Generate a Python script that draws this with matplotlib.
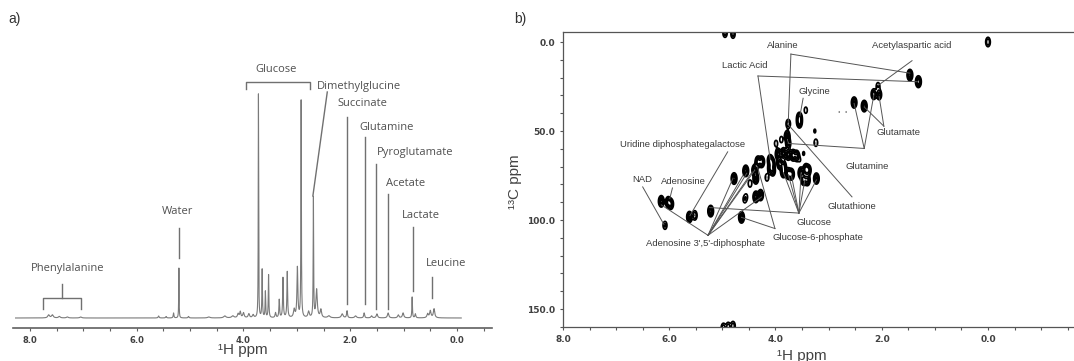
import numpy as np
import matplotlib
matplotlib.use('Agg')
import matplotlib.pyplot as plt
from matplotlib.ticker import MultipleLocator, FormatStrFormatter

# ---- panel a) 1D 1H spectrum: peak list (ppm, height, fwhm)
peak_ppm = [7.65, 7.58, 7.45, 7.30, 7.05,
            5.59, 5.45, 5.31, 5.21, 5.03,
            4.65, 4.35, 4.20, 4.10, 4.06, 4.00, 3.90, 3.82,
            3.72, 3.65, 3.59, 3.53,
            3.40, 3.33, 3.26, 3.18,
            3.05, 2.99, 2.92,
            2.78, 2.69, 2.63, 2.55,
            2.40, 2.15, 2.06,
            1.90, 1.74, 1.60, 1.50, 1.29, 1.10, 1.01,
            0.84, 0.78,
            0.55, 0.50, 0.43]
peak_height = [3, 3, 1.5, 1, 1,
               2, 1.5, 5, 50, 1.5,
               1, 2, 2, 4, 6, 5, 4, 3,
               225, 48, 26, 43,
               5, 18, 40, 46,
               8, 50, 217,
               6, 120, 28, 8,
               2, 4, 7,
               2, 5, 2, 4, 5, 3, 5,
               21, 4,
               4, 7, 9]
peak_fwhm = [0.04, 0.04, 0.04, 0.04, 0.04,
             0.02, 0.02, 0.015, 0.008, 0.02,
             0.05, 0.05, 0.05, 0.03, 0.025, 0.03, 0.03, 0.03,
             0.008, 0.012, 0.012, 0.012,
             0.02, 0.015, 0.015, 0.015,
             0.03, 0.02, 0.01,
             0.03, 0.01, 0.03, 0.03,
             0.05, 0.04, 0.02,
             0.04, 0.02, 0.03, 0.03, 0.03, 0.03, 0.03,
             0.012, 0.02,
             0.03, 0.03, 0.03]

# metabolite labels: (text, ppm, height)
labels_a = [('Glucose', 3.39, 249), ('Dimethylglucine', 1.84, 232),
            ('Succinate', 1.78, 215), ('Glutamine', 1.31, 191),
            ('Pyroglutamate', 0.79, 166), ('Acetate', 0.96, 134),
            ('Lactate', 0.67, 103), ('Leucine', 0.21, 54),
            ('Water', 5.24, 106), ('Phenylalanine', 7.30, 49)]
# vertical leader lines: (ppm, top, bottom)
leaders_a = [(5.21, 90, 60), (2.06, 201, 14), (1.73, 181, 14), (1.51, 154, 9),
             (1.29, 124, 9), (0.83, 91, 27), (0.47, 41, 20)]

# ---- panel b) 2D HSQC cross peaks (1H ppm, 13C ppm, intensity)
hsqc_H = [0.00, 4.95, 4.80, 4.98, 4.89, 4.80,
          1.47, 1.31, 2.07, 2.15, 2.05, 2.52, 2.33,
          3.43, 2.80, 2.67, 3.55, 3.55, 3.76, 3.26, 3.78, 3.76,
          3.99, 3.89, 3.24, 3.47,
          3.95, 3.85, 3.76, 3.67, 3.60,
          4.33, 4.26, 4.10, 4.06, 3.92, 3.85, 4.10, 4.05,
          3.85, 3.76, 3.70, 3.52, 3.43, 3.38, 3.47, 3.40, 3.23,
          4.56, 4.39, 4.78, 4.37, 4.48, 4.16,
          4.37, 4.28, 4.58, 4.55, 4.64, 5.22,
          5.62, 5.52, 6.15, 6.02, 5.97, 6.08,
          1.31, 3.54]
hsqc_C = [0.0, -5.0, -4.5, 160.5, 160.0, 159.5,
          18.6, 22.3, 24.8, 29.3, 29.6, 34.0, 36.0,
          38.3, 39.2, 39.2, 42.6, 45.2, 46.0, 50.0, 52.9, 57.0,
          57.0, 54.8, 56.6, 62.6,
          63.0, 62.6, 63.2, 63.6, 64.0,
          67.3, 67.3, 66.4, 68.3, 68.3, 69.8, 71.0, 72.4,
          73.0, 73.9, 74.3, 73.5, 71.6, 72.0, 77.3, 77.6, 76.7,
          72.4, 72.0, 76.7, 76.7, 79.5, 76.1,
          87.0, 86.0, 88.5, 86.8, 98.5, 95.0,
          98.3, 97.4, 89.5, 90.0, 91.0, 103.0,
          71.0, 66.4]
hsqc_I = [0.5, 0.4, 0.4, 0.45, 0.45, 0.45,
          0.9, 1.0, 0.3, 0.7, 0.6, 0.8, 0.9,
          0.25, 0.15, 0.15, 0.8, 0.8, 0.45, 0.18, 0.8, 0.6,
          0.25, 0.25, 0.3, 0.18,
          0.9, 0.9, 0.9, 0.9, 0.8,
          0.9, 0.9, 0.8, 0.7, 0.9, 0.8, 0.6, 0.6,
          0.9, 0.9, 0.9, 0.9, 0.9, 0.7, 0.9, 0.8, 0.8,
          0.9, 0.9, 0.9, 0.8, 0.3, 0.3,
          0.9, 0.8, 0.25, 0.18, 0.9, 0.9,
          0.8, 0.5, 0.9, 0.8, 0.7, 0.35,
          0.12, 0.15]

# assignments: (text, text_H, text_C, vertex_H, vertex_C, targets)
labels_b = [
    ('Alanine', 3.86, 1.7, 3.71, 6.8, [(1.47, 17.5), (3.76, 45.5)]),
    ('Acetylaspartic acid', 1.43, 1.7, 1.43, 10.5, [(2.06, 24.2)]),
    ('Lactic Acid', 4.58, 13.3, 4.33, 19.1, [(1.33, 22.3), (4.10, 66.0)]),
    ('Glycine', 3.26, 28.0, 3.48, 31.6, [(3.54, 41.5)]),
    ('Glutamate', 1.68, 51.0, 1.96, 47.3, [(2.05, 30.5), (2.33, 36.5)]),
    ('Glutamine', 2.28, 70.2, 2.33, 59.8, [(2.52, 34.5), (2.15, 30.0), (3.76, 57.0)]),
    ('Glutathione', 2.56, 92.6, 2.56, 87.0, [(3.77, 46.1)]),
    ('Glucose', 3.27, 101.2, 3.56, 96.1, [(3.85, 73.5), (3.76, 74.5), (3.70, 75.0), (3.52, 74.0),
                                         (3.45, 78.0), (3.23, 77.5), (5.24, 93.0)]),
    ('Glucose-6-phosphate', 3.20, 109.7, 4.01, 104.8, [(4.64, 98.5), (4.34, 70.0)]),
    ('Uridine diphosphategalactose', 5.74, 57.4, 4.90, 61.7, [(5.61, 97.5)]),
    ('NAD', 6.51, 77.0, 6.50, 81.4, [(6.10, 102.5)]),
    ('Adenosine', 5.74, 78.6, 5.94, 82.0, [(5.99, 88.0)]),
    ("Adenosine 3',5'-diphosphate", 5.31, 113.0, 5.27, 108.6,
     [(6.15, 91.5), (4.80, 76.5), (4.61, 74.8), (4.54, 73.7), (4.44, 73.0), (4.39, 72.0), (4.26, 87.0)]),
]

W, H = 1074, 361
fig = plt.figure(figsize=(W / 100, H / 100), dpi=100)

txt_a = dict(family='Open Sans', fontsize=8, color='#505050')
txt_b = dict(family='Liberation Sans', fontsize=6.8, color='#3a3a3a')
lab = dict(family='Liberation Sans', fontsize=11, color='#444444')

# ---------------- panel a
ax1 = fig.add_axes([13 / W, 33 / H, 479 / W, 278 / H])
x = np.linspace(8.27, -0.08, 9000)
y = np.zeros_like(x)
for p, h, w in zip(peak_ppm, peak_height, peak_fwhm):
    hw = w / 2
    y += h * hw ** 2 / ((x - p) ** 2 + hw ** 2)
ax1.plot(x, y, color='#7a7a7a', lw=0.8)

for t, p, h in labels_a:
    ax1.text(p, h, t, ha='center', va='center', **txt_a)
for p, top, bot in leaders_a:
    ax1.plot([p, p], [bot, top], color='#707070', lw=1.0)
# slanted leader for dimethylglycine
ax1.plot([2.43, 2.70], [226, 122], color='#707070', lw=1.0)
# brackets
ax1.plot([3.96, 3.96, 2.75, 2.75], [229, 236, 236, 229], color='#707070', lw=1.0)
ax1.plot([7.76, 7.76, 7.05, 7.05], [9, 20, 20, 9], color='#707070', lw=1.0)
ax1.plot([7.40, 7.40], [20, 34], color='#707070', lw=1.0)

ax1.set_xlim(8.318, -0.656)
ax1.set_ylim(-10, 268)
for s in ['left', 'right', 'top']:
    ax1.spines[s].set_visible(False)
ax1.spines['bottom'].set_color('#606060')
ax1.spines['bottom'].set_linewidth(1.2)
ax1.set_yticks([])
ax1.xaxis.set_major_locator(MultipleLocator(2.0))
ax1.xaxis.set_minor_locator(MultipleLocator(0.5))
ax1.xaxis.set_major_formatter(FormatStrFormatter('%.1f'))
ax1.tick_params(axis='x', which='both', length=2.5, width=0.8, color='#606060',
                labelsize=6, labelcolor='#404040', pad=3)
for tl in ax1.get_xticklabels():
    tl.set_fontweight('bold')
ax1.set_xlabel('¹H ppm', **lab)
ax1.xaxis.set_label_coords((243 - 13) / 479, -0.055)
fig.text(15 / W, 1 - 19 / H, 'a)', ha='center', va='center', family='Liberation Sans',
         fontsize=10, color='#333333')

# ---------------- panel b
ax2 = fig.add_axes([563 / W, 34 / H, 522 / W, 295 / H])
hg = np.arange(-1.9, 8.05, 0.005)
cg = np.arange(-7, 162, 0.2)
HH, CC = np.meshgrid(hg, cg)
Z = np.zeros_like(HH)
for h0, c0, a in zip(hsqc_H, hsqc_C, hsqc_I):
    Z += a * np.exp(-((HH - h0) ** 2 / (2 * 0.028 ** 2) + (CC - c0) ** 2 / (2 * 1.7 ** 2)))
ax2.contour(HH, CC, Z, levels=[0.15, 0.3, 0.5, 0.72], colors='black', linewidths=1.25)

for t, th, tc, vh, vc, targets in labels_b:
    ax2.text(th, tc, t, ha='center', va='center', **txt_b)
    for gh, gc in targets:
        ax2.plot([vh, gh], [vc, gc], color='#555555', lw=0.7)

ax2.set_xlim(8.0, -1.826)
ax2.set_ylim(160.1, -5.62)
for s in ax2.spines.values():
    s.set_color('#555555')
    s.set_linewidth(0.9)
ax2.xaxis.set_major_locator(MultipleLocator(2.0))
ax2.xaxis.set_minor_locator(MultipleLocator(0.5))
ax2.xaxis.set_major_formatter(FormatStrFormatter('%.1f'))
ax2.yaxis.set_major_locator(MultipleLocator(50))
ax2.yaxis.set_minor_locator(MultipleLocator(10))
ax2.yaxis.set_major_formatter(FormatStrFormatter('%.1f'))
ax2.tick_params(axis='both', which='both', length=2.5, width=0.8, color='#555555',
                labelsize=6.5, labelcolor='#404040', pad=3)
for tl in ax2.get_xticklabels() + ax2.get_yticklabels():
    tl.set_fontweight('bold')
ax2.set_xlabel('¹H ppm', **lab)
ax2.xaxis.set_label_coords((802 - 563) / 522, -0.075)
ax2.set_ylabel('¹³C ppm', **lab)
ax2.yaxis.set_label_coords((522 - 563) / 522, (361 - 34 - 182) / 295)
fig.text(520 / W, 1 - 19 / H, 'b)', ha='center', va='center', family='Liberation Sans',
         fontsize=10, color='#333333')

fig.savefig('out.png', dpi=100)
